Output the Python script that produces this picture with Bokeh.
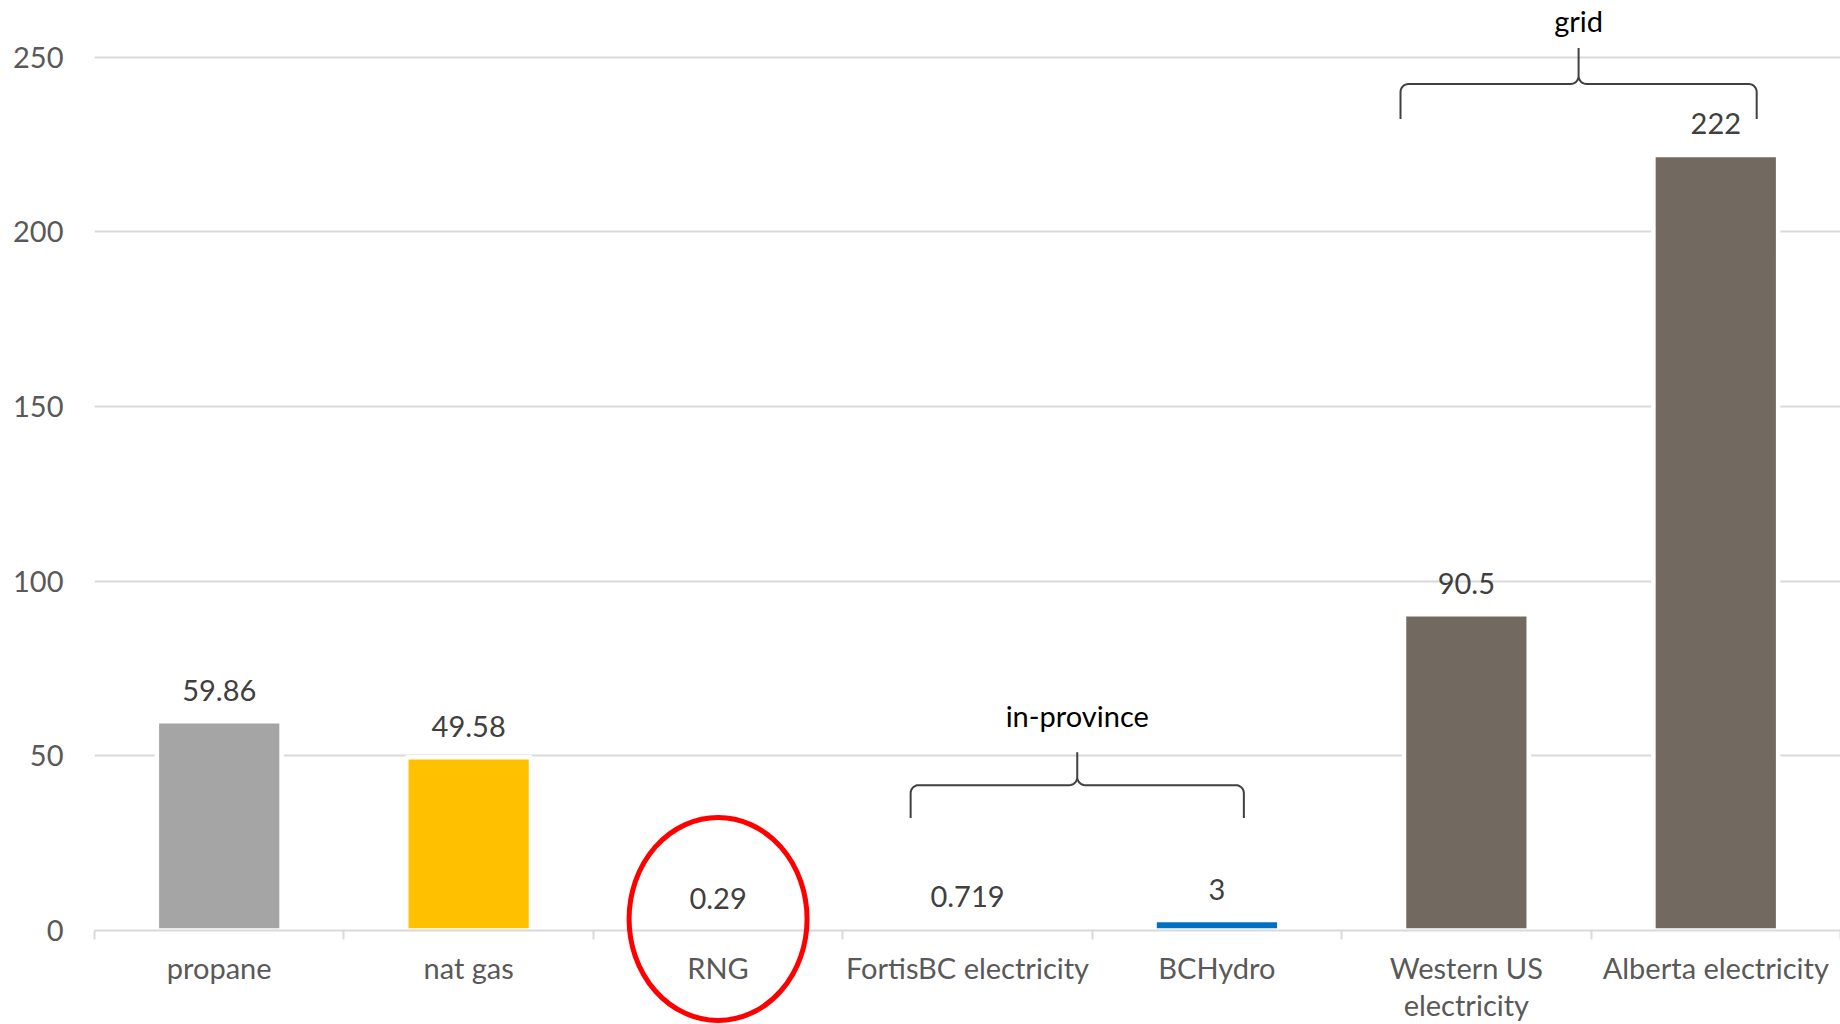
import math
from bokeh.plotting import figure
from bokeh.models import ColumnDataSource, FixedTicker, LinearAxis, Range1d
from bokeh.core.properties import value
from bokeh.embed import file_html
from bokeh.resources import INLINE

# ---------------- data ----------------
categories = ["propane", "nat gas", "RNG", "FortisBC electricity", "BCHydro",
              "Western US electricity", "Alberta electricity"]
display_labels = {"Western US electricity": "Western US\nelectricity"}
values = [59.86, 49.58, 0.29, 0.719, 3, 90.5, 222]
bar_colors = ["#A5A5A5", "#FFC000", "#70AD47", "#5B9BD5", "#0070C0", "#726A61", "#726A61"]
y_ticks = [0, 50, 100, 150, 200, 250]
highlight = "RNG"
groups = [
    # name, first category, last category
    ("in-province", "FortisBC electricity", "BCHydro"),
    ("grid", "Western US electricity", "Alberta electricity"),
]

FONT = "Lato"
FS = "29px"
TXT = "#595959"

n = len(categories)
centers = [i + 0.5 for i in range(n)]
bounds = list(range(n + 1))

W, H = 1840, 1024
LEFT = 94
p = figure(width=W, height=H, x_range=Range1d(0, n), y_range=Range1d(0, 266.2),
           output_backend="svg", toolbar_location=None,
           min_border_left=LEFT, min_border_right=0, min_border_top=0, min_border_bottom=80,
           x_axis_location=None)
p.outline_line_color = None
p.background_fill_color = "white"
p.border_fill_color = "white"

# y axis
p.yaxis.ticker = FixedTicker(ticks=y_ticks)
p.yaxis.axis_line_color = None
p.yaxis.major_tick_line_color = None
p.yaxis.minor_tick_line_color = None
p.yaxis.major_label_text_font = FONT
p.yaxis.major_label_text_font_size = FS
p.yaxis.major_label_text_color = TXT
p.yaxis.major_label_standoff = 25
p.xgrid.grid_line_color = None
p.ygrid.ticker = FixedTicker(ticks=y_ticks)
p.ygrid.grid_line_color = "#D9D9D9"
p.ygrid.grid_line_width = 2

# x axis: labels at category centres, small tick marks at category boundaries
cat_axis = LinearAxis(ticker=FixedTicker(ticks=centers, minor_ticks=bounds),
                      axis_line_color="#D9D9D9", axis_line_width=2,
                      major_tick_line_color=None, major_tick_in=0, major_tick_out=0,
                      minor_tick_line_color="#D9D9D9", minor_tick_line_width=2,
                      minor_tick_in=0, minor_tick_out=9,
                      major_label_text_font=FONT, major_label_text_font_size=FS,
                      major_label_text_color=TXT, major_label_standoff=10,
                      major_label_text_line_height=1.06,
                      major_label_overrides={c: display_labels.get(k, k)
                                             for c, k in zip(centers, categories)})
p.add_layout(cat_axis, "below")

# bars
src = ColumnDataSource(dict(x=centers, cat=categories, val=values, color=bar_colors,
                            label=[f"{v:g}" for v in values]))
p.vbar(x="x", top="val", width=0.5, source=src, fill_color="color",
       line_color="white", line_width=4.5)

# value labels
p.text(x="x", y="val", text="label", source=src, y_offset=-31,
       text_align="center", text_baseline="middle", text_font=value(FONT),
       text_font_size=FS, text_color="#404040")

# highlight ellipse around RNG
hi = centers[categories.index(highlight)]
p.ellipse(x=[hi], y=[3.3], width=178, height=203, width_units="screen",
          height_units="screen", fill_color=None, line_color="#FF0000", line_width=5,
          level="overlay")

# curly brackets
sx = (W - LEFT) / n    # px per category
sy = 3.49              # px per y unit


def brace(x0, x1, y_end, y_h, y_peak, rc=8, c=8):
    xm = (x0 + x1) / 2
    xs, ys = [], []

    def arc(cx, cy, r, a0, a1, k=8):
        for i in range(k + 1):
            a = math.radians(a0 + (a1 - a0) * i / k)
            xs.append(cx + r * math.cos(a) / sx)
            ys.append(cy + r * math.sin(a) / sy)

    xs.append(x0); ys.append(y_end)
    arc(x0 + rc / sx, y_h - rc / sy, rc, 180, 90)
    arc(xm - c / sx, y_h + c / sy, c, 270, 360)
    xs.append(xm); ys.append(y_peak)
    arc(xm + c / sx, y_h + c / sy, c, 180, 270)
    arc(x1 - rc / sx, y_h - rc / sy, rc, 90, 0)
    xs.append(x1); ys.append(y_end)
    return xs, ys, xm


brace_geom = {"in-province": (-0.228, 0.108, 32.2, 41.6, 51.0, 61.6),
              "grid": (-0.264, 0.164, 232.3, 242.3, 252.6, 260.4)}
for name, first, last in groups:
    lo, hi_off, y_end, y_h, y_peak, y_txt = brace_geom[name]
    x0 = centers[categories.index(first)] + lo
    x1 = centers[categories.index(last)] + hi_off
    bx, by, xm = brace(x0, x1, y_end, y_h, y_peak)
    p.line(bx, by, line_color="#404040", line_width=2)
    p.text(x=[xm], y=[y_txt], text=[name], text_align="center",
           text_baseline="middle", text_font=value(FONT), text_font_size=FS,
           text_color="#000000")

open("out.html", "w").write(file_html(p, INLINE))
